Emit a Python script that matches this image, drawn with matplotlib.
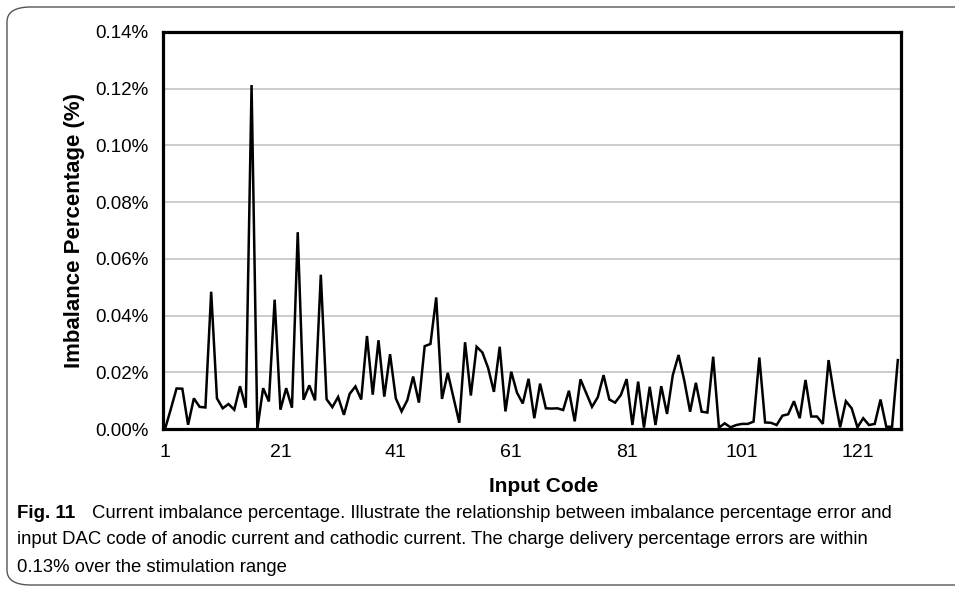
import numpy as np
import matplotlib.pyplot as plt
from matplotlib.patches import FancyBboxPatch

# input codes 1..128 and imbalance (%)
codes = np.arange(1, 129)
imbalance = [
    0.0, 0.0070, 0.0143, 0.0142, 0.0015, 0.0108, 0.0078, 0.0076, 0.0484, 0.0108,
    0.0073, 0.0088, 0.0068, 0.0151, 0.0075, 0.1213, 0.0, 0.0144, 0.0097, 0.0456,
    0.0068, 0.0144, 0.0075, 0.0694, 0.0103, 0.0154, 0.0101, 0.0544, 0.0105, 0.0077,
    0.0113, 0.0050, 0.0124, 0.0150, 0.0104, 0.0328, 0.0121, 0.0313, 0.0114, 0.0264,
    0.0108, 0.0062, 0.0102, 0.0185, 0.0093, 0.0292, 0.0300, 0.0464, 0.0106, 0.0198,
    0.0110, 0.0022, 0.0306, 0.0118, 0.0290, 0.0270, 0.0215, 0.0131, 0.0290, 0.0062,
    0.0202, 0.0128, 0.0090, 0.0177, 0.0038, 0.0160, 0.0073, 0.0072, 0.0073, 0.0067,
    0.0135, 0.0027, 0.0175, 0.0126, 0.0078, 0.0112, 0.0190, 0.0104, 0.0093, 0.0120,
    0.0176, 0.0014, 0.0167, 0.0005, 0.0149, 0.0014, 0.0151, 0.0053, 0.0190, 0.0261,
    0.0170, 0.0061, 0.0163, 0.0061, 0.0058, 0.0255, 0.0005, 0.0020, 0.0006, 0.0014,
    0.0018, 0.0018, 0.0026, 0.0252, 0.0023, 0.0022, 0.0014, 0.0047, 0.0052, 0.0098,
    0.0038, 0.0173, 0.0044, 0.0044, 0.0018, 0.0243, 0.0115, 0.0006, 0.0098, 0.0073,
    0.0006, 0.0038, 0.0014, 0.0018, 0.0104, 0.0008, 0.0008, 0.0243,
]
xticks = [1, 21, 41, 61, 81, 101, 121]
yticks = [0.00, 0.02, 0.04, 0.06, 0.08, 0.10, 0.12, 0.14]

arial = ['Liberation Sans', 'DejaVu Sans']

W, H = 955, 592
fig = plt.figure(figsize=(W / 100, H / 100), dpi=100)
ax = fig.add_axes([163 / W, 1 - 429 / H, (901 - 163) / W, (429 - 32) / H])

ax.plot(codes, imbalance, color='black', lw=1.8, solid_joinstyle='miter')
ax.set_xlim(0.65, 128.55)
ax.set_ylim(0, 0.14)
ax.set_xticks(xticks)
ax.set_yticks(yticks)
ax.set_xticklabels([str(t) for t in xticks], family=arial, fontsize=14)
ax.set_yticklabels(['%.2f%%' % t for t in yticks], family=arial, fontsize=13.5)
ax.tick_params(length=0)
ax.tick_params(axis='y', pad=10.5)
ax.tick_params(axis='x', pad=11)
ax.grid(axis='y', color='#c4c4c4', lw=1.2)
ax.set_axisbelow(True)
for s in ax.spines.values():
    s.set_linewidth(2.3)
    s.set_color('black')

ax.set_ylabel('Imbalance Percentage (%)', family=arial, fontweight='bold', fontsize=16)
ax.yaxis.set_label_coords(-0.1057, 0.5)
ax.set_xlabel('Input Code', family=arial, fontweight='bold', fontsize=15, va='center')
ax.xaxis.set_label_coords(0.516, -0.146)

# caption
cap = ['Current imbalance percentage. Illustrate the relationship between imbalance percentage error and',
       'input DAC code of anodic current and cathodic current. The charge delivery percentage errors are within',
       '0.13% over the stimulation range']
fig.text(17 / W, 1 - 513 / H, 'Fig. 11', family=arial, fontweight='bold', fontsize=13.5, va='center')
fig.text(92 / W, 1 - 513 / H, cap[0], family=arial, fontsize=13.3, va='center')
fig.text(17 / W, 1 - 540 / H, cap[1], family=arial, fontsize=13.3, va='center')
fig.text(17 / W, 1 - 567 / H, cap[2], family=arial, fontsize=13.3, va='center')

# rounded frame around the figure
frame = FancyBboxPatch((7 / W, 7 / H), (980 - 7) / W, (585 - 7) / H,
                       boxstyle='round,pad=0,rounding_size=0.025',
                       transform=fig.transFigure, fill=False, ec='#555555', lw=1.0)
fig.patches.append(frame)

fig.savefig('out.png', dpi=100)
